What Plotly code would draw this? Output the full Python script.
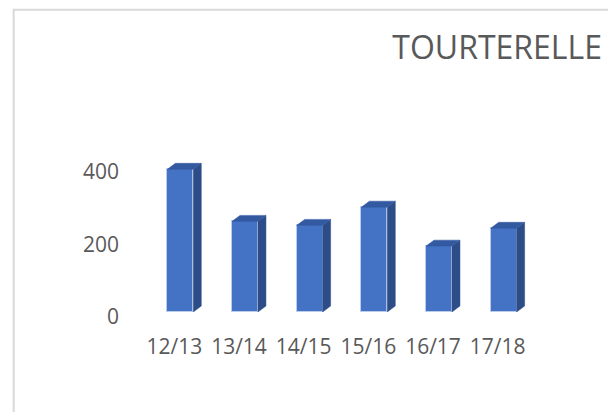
import plotly.graph_objects as go

# ---- data ----
categories = ["12/13", "13/14", "14/15", "15/16", "16/17", "17/18"]
values = [392, 249, 238, 288, 181, 230]
y_ticks = [0, 200, 400]
title_text = "TOURTERELLE"

# ---- styling / geometry ----
OFF = 8  # default page body margin
W, H = 616 - OFF, 412 - OFF
PX_PER_CAT = 64.8
PX_PER_UNIT = 0.365
Y_MAX = 500
L = 180 - OFF - 0.5 * PX_PER_CAT
plotW = 6 * PX_PER_CAT
Rm = W - L - plotW
BASE_Y = 312 - OFF
B = H - BASE_Y
plotH = Y_MAX * PX_PER_UNIT
T = H - B - plotH

bar_w = 26 / PX_PER_CAT
dx = 8 / PX_PER_CAT
dy = 6 / PX_PER_UNIT

front_col = "#4472C4"
side_col = "#2C4D87"
top_col = "#3359A0"
edge_col = "rgba(190,206,235,0.9)"
text_col = "#595959"
font_family = "Open Sans"

xs = list(range(len(categories)))

fig = go.Figure()

# side faces
sx, sy = [], []
for i, v in zip(xs, values):
    r = i + bar_w / 2
    sx += [r, r + dx, r + dx, r, r, None]
    sy += [0, dy, v + dy, v, 0, None]
fig.add_trace(go.Scatter(x=sx, y=sy, fill="toself", fillcolor=side_col, mode="lines",
                         line=dict(color=side_col, width=0.5), hoverinfo="skip", showlegend=False))

# top faces
tx, ty = [], []
for i, v in zip(xs, values):
    l = i - bar_w / 2
    r = i + bar_w / 2
    tx += [l, r, r + dx, l + dx, l, None]
    ty += [v, v, v + dy, v + dy, v, None]
fig.add_trace(go.Scatter(x=tx, y=ty, fill="toself", fillcolor=top_col, mode="lines",
                         line=dict(color=top_col, width=0.5), hoverinfo="skip", showlegend=False))

# front faces
fig.add_trace(go.Bar(x=xs, y=values, width=bar_w, marker=dict(color=front_col, line=dict(color=edge_col, width=1)),
                     showlegend=False, hovertext=categories))

# chart border (outer frame)
fig.add_shape(type="rect", xref="paper", yref="paper",
              x0=(13 - OFF - L) / plotW, x1=(W + 10 - L) / plotW,
              y0=(BASE_Y - (H + 10)) / plotH, y1=(BASE_Y - (9 - OFF)) / plotH,
              line=dict(color="#D9D9D9", width=2), fillcolor="rgba(0,0,0,0)", layer="below")

fig.update_layout(
    width=W, height=H,
    margin=dict(l=L, r=Rm, t=T, b=B, pad=0),
    paper_bgcolor="white", plot_bgcolor="white",
    font=dict(family=font_family, color=text_col, size=21),
    title=dict(text=title_text, xref="container", yref="container", x=(602 - OFF) / W, xanchor="right",
               y=1 - (48 - OFF) / H, yanchor="middle", font=dict(size=32, color=text_col, family=font_family)),
    bargap=0,
    xaxis=dict(range=[-0.5, 5.5], tickvals=xs, ticktext=categories, showgrid=False, zeroline=False,
               showline=False, ticks="", ticklabelshift=-6, ticklabelstandoff=20, fixedrange=True),
    yaxis=dict(range=[0, Y_MAX], tickvals=y_ticks, showgrid=False, zeroline=False, showline=False,
               ticks="", ticklabelshift=5, ticklabelstandoff=28, fixedrange=True),
)

fig.write_html("out.html")
